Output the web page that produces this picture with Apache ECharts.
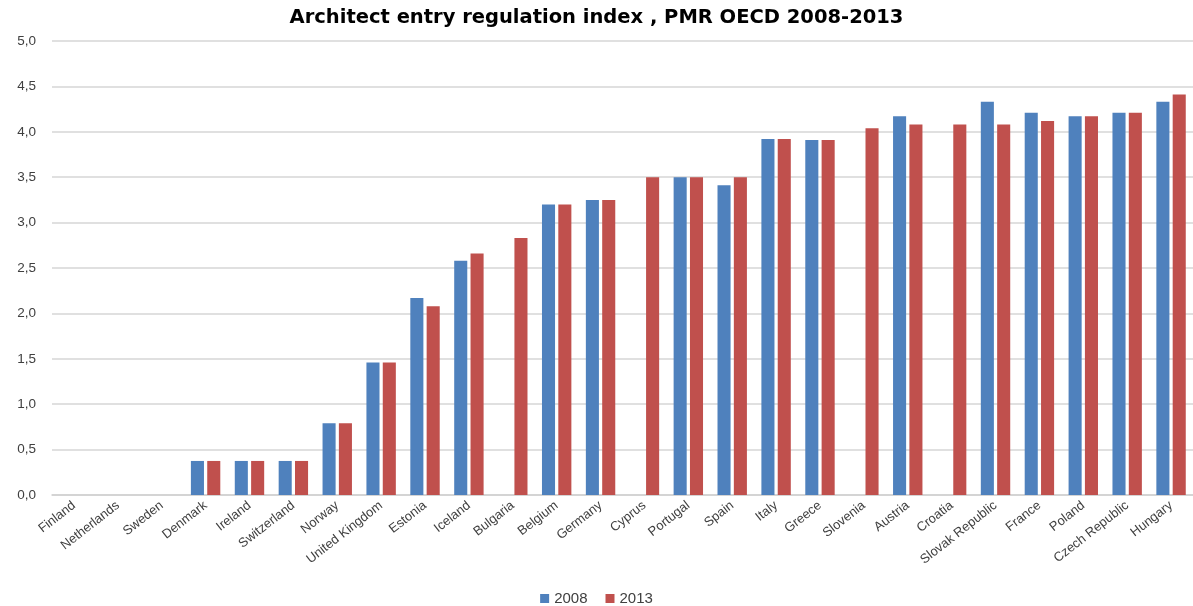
<!DOCTYPE html>
<html>
<head>
<meta charset="utf-8">
<script src="https://cdn.jsdelivr.net/npm/echarts@6/dist/echarts.min.js"></script>
<style>html,body{margin:0;padding:0;background:#fff}#c{width:1193px;height:606px}</style>
</head>
<body>
<div id="c"></div>
<script>
const categories = ["Finland","Netherlands","Sweden","Denmark","Ireland","Switzerland","Norway","United Kingdom","Estonia","Iceland","Bulgaria","Belgium","Germany","Cyprus","Portugal","Spain","Italy","Greece","Slovenia","Austria","Croatia","Slovak Republic","France","Poland","Czech Republic","Hungary"];
const v2008 = [0,0,0,0.375,0.375,0.375,0.79,1.46,2.17,2.58,null,3.20,3.25,null,3.50,3.41,3.92,3.91,null,4.17,null,4.33,4.21,4.17,4.21,4.33];
const v2013 = [0,0,0,0.375,0.375,0.375,0.79,1.46,2.08,2.66,2.83,3.20,3.25,3.50,3.50,3.50,3.92,3.91,4.04,4.08,4.08,4.08,4.12,4.17,4.21,4.41];
const yTicks = {min:0, max:5, interval:0.5};

const chart = echarts.init(document.getElementById('c'));
const font = '"Liberation Sans", Arial, sans-serif';
chart.setOption({
  animation:false,
  title:{text:'Architect entry regulation index , PMR OECD 2008-2013', left:'center', top:3,
    textStyle:{fontFamily:'"DejaVu Sans", Verdana, sans-serif', fontWeight:'bold', fontSize:19.5, color:'#000'}},
  legend:{top:586, left:'center', itemWidth:9, itemHeight:9, itemGap:18, icon:'rect',
    textStyle:{fontFamily:font, fontSize:15, color:'#404040'}},
  grid:{left:52, right:0, top:41, bottom:111, containLabel:false},
  xAxis:{type:'category', data:categories,
    axisLine:{lineStyle:{color:'#d0d0d0', width:1.5}}, axisTick:{show:false},
    axisLabel:{rotate:38, interval:0, fontFamily:font, fontSize:13, color:'#404040', margin:9}},
  yAxis:{type:'value', min:yTicks.min, max:yTicks.max, interval:yTicks.interval,
    axisLine:{show:false}, axisTick:{show:false},
    splitLine:{lineStyle:{color:'#d6d6d6', width:1.5}},
    axisLabel:{fontFamily:font, fontSize:13.5, color:'#404040', margin:16,
      formatter:v=>v.toFixed(1).replace('.',',')}},
  series:[
    {name:'2008', type:'bar', data:v2008, barGap:'25%', barCategoryGap:'33%',
      itemStyle:{color:'#4F81BD'}},
    {name:'2013', type:'bar', data:v2013, itemStyle:{color:'#C0504D'}}
  ]
});
</script>
</body>
</html>
